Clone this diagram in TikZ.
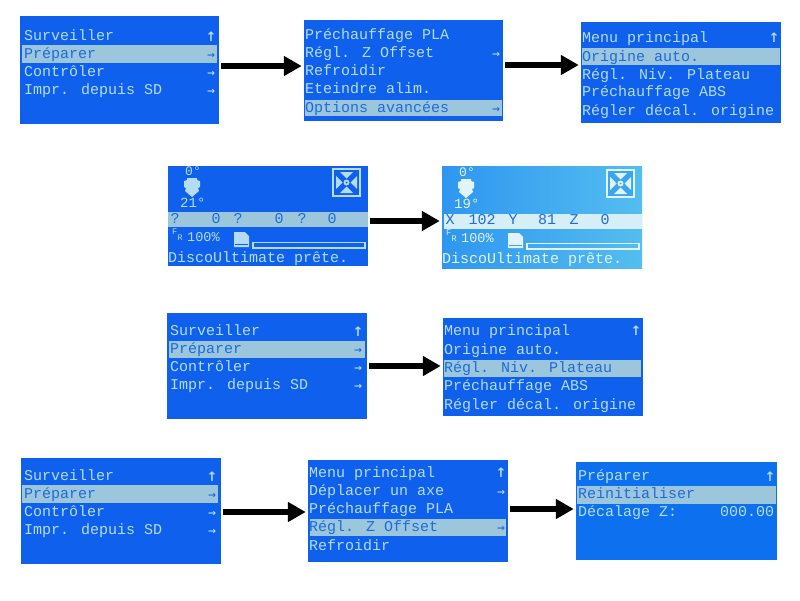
\documentclass[tikz,border=0pt]{standalone}
\usepackage{fontspec}
\usepackage{tikz}
\usetikzlibrary{arrows.meta}
\newfontfamily\lcdfont{Liberation Mono}
\newfontfamily\symfont{DejaVu Sans Bold}
\definecolor{lcdblue}{HTML}{0F60EC}
\definecolor{lcdtext}{HTML}{B4DCF4}
\definecolor{lcdrow}{HTML}{9CC6DC}
\definecolor{lcdink}{HTML}{1E6BE0}
\definecolor{skyleft}{HTML}{2E96F0}
\definecolor{skyright}{HTML}{54BEF0}
\definecolor{skymid}{HTML}{3CA5F0}
\definecolor{skyrow}{HTML}{D6EEF6}
\definecolor{skytext}{HTML}{E2F4FA}
\tikzset{
    screen/.style={rectangle, fill=lcdblue, inner sep=0pt},
    rowbar/.style={rectangle, fill=lcdrow, inner sep=0pt},
    lcd/.style={anchor=base west, inner sep=0pt, yshift=1pt, text=lcdtext, font=\lcdfont\fontsize{15}{15}\selectfont},
    ink/.style={lcd, text=lcdink},
    sym/.style={anchor=base, inner sep=0pt, text=lcdtext, font=\symfont\fontsize{9.5}{9.5}\selectfont},
    symink/.style={sym, text=lcdink},
    symup/.style={sym, font=\symfont\fontsize{13}{13}\selectfont},
    bigarrow/.style={line width=6pt, -{Triangle[width=19pt,length=18pt]}, shorten <=2pt, shorten >=2pt},
}
\begin{document}
\begin{tikzpicture}[x=1pt, y=-1pt]
    \useasboundingbox (0,0) rectangle (800,600);
    \fill[white] (0,0) rectangle (800,600);

    % first line
    \node at (119.5,70) [screen, minimum width=199pt, minimum height=108pt] (s1) {};
    \node at (119.5,54) [rowbar, minimum width=195pt, minimum height=18pt] (s1bar) {};
    \foreach \i/\y/\t/\k in {a/41/Surveiller/lcd, b/59/Préparer/ink, c/77/Contrôler/lcd, d/95/Impr. depuis SD/lcd}
        \node at (24,\y) [\k] (s1\i) {\t};
    \node at (211,41) [symup] (s1up) {↑};
    \foreach \i/\y/\k in {b/58/symink, c/76/sym, d/94/sym}
        \node at (211,\y) [\k] (s1go\i) {→};

    \node at (403.5,70.5) [screen, minimum width=199pt, minimum height=101pt] (s2) {};
    \node at (403.5,108) [rowbar, minimum width=197pt, minimum height=16pt] (s2bar) {};
    \foreach \i/\y/\t/\k in {a/40/Préchauffage PLA/lcd, b/58/Régl. Z Offset/lcd, c/76/Refroidir/lcd, d/94/Eteindre alim./lcd, e/113/Options avancées/ink}
        \node at (305,\y) [\k] (s2\i) {\t};
    \foreach \i/\y/\k in {b/57/sym, e/112/symink}
        \node at (496,\y) [\k] (s2go\i) {→};

    \node at (681,72.5) [screen, minimum width=200pt, minimum height=101pt] (s3) {};
    \node at (681,56.5) [rowbar, minimum width=198pt, minimum height=17pt] (s3bar) {};
    \foreach \i/\y/\t/\k in {a/43/Menu principal/lcd, b/62/Origine auto./ink, c/80/Régl. Niv. Plateau/lcd, d/97/Préchauffage ABS/lcd, e/116/Régler décal. origine/lcd}
        \node at (582,\y) [\k] (s3\i) {\t};
    \node at (774,42) [symup] (s3up) {↑};

    % status screens
    \node at (268,216) [screen, minimum width=200pt, minimum height=100pt] (s4) {};
    \node at (268,219.5) [rowbar, minimum width=200pt, minimum height=15pt] (s4bar) {};
    \node at (542,217) [rectangle, inner sep=0pt, minimum width=200pt, minimum height=102pt, left color=skyleft, right color=skyright] (s5) {};
    \node at (543,221.5) [rectangle, inner sep=0pt, minimum width=198pt, minimum height=15pt, fill=skyrow] (s5bar) {};

    \foreach \n/\dx/\dy/\tmp/\col/\bg in {p/0/0/21/lcdtext/lcdblue, q/274/1/19/skytext/skymid} {
        \begin{scope}[shift={(\dx,\dy)}]
            % heater, fan
            \node at (185,176) [lcd, font=\lcdfont\fontsize{13}{13}\selectfont, text=\col] (\n hot) {0°};
            \node at (180,208) [lcd, font=\lcdfont\fontsize{14}{14}\selectfont, text=\col] (\n bed) {\tmp°};
            \fill[\col] (187,178) -- (197,178) -- (197,180) -- (200,181) -- (200,187) -- (198,188) -- (199,191) -- (192,197) -- (185,191) -- (186,188) -- (184,187) -- (184,181) -- (187,180) -- cycle;
            \fill[\col] (332,168) rectangle (361,197);
            \fill[\bg] (334,170) rectangle (359,195);
            \fill[\col] (340,172) -- (353,172) -- (346.5,178.5) -- cycle;
            \fill[\col] (340,193) -- (353,193) -- (346.5,186.5) -- cycle;
            \fill[\col] (336,176) -- (336,189) -- (342.5,182.5) -- cycle;
            \fill[\col] (357,176) -- (357,189) -- (350.5,182.5) -- cycle;
            \fill[\col] (346.5,182.5) circle (3);
            \fill[\bg] (346.5,182.5) circle (1);
            % feedrate, card, progress
            \node at (172,235) [lcd, font=\lcdfont\fontsize{8.5}{8.5}\selectfont, text=\col] (\n f) {F};
            \node at (177.5,241) [lcd, font=\lcdfont\fontsize{8.5}{8.5}\selectfont, text=\col] (\n r) {R};
            \node at (187,242) [lcd, font=\lcdfont\fontsize{13.5}{13.5}\selectfont, text=\col] (\n rate) {100\%};
            \fill[\col] (234,232) -- (245,232) -- (249,236) -- (249,247) -- (234,247) -- cycle;
            \draw[\bg, line width=1pt] (235,244) -- (248,244);
            \draw[\col, line width=1.2pt] (253,242.5) rectangle (365,248);
            \node at (168,263) [lcd, text=\col] (\n msg) {DiscoUltimate prête.};
        \end{scope}
    }
    \foreach \i/\x/\t in {a/175/?, b/216/0, c/238/?, d/279/0, e/302/?, f/332/0}
        \node at (\x,224) [ink, anchor=base] (s4\i) {\t};
    \foreach \i/\x/\t in {a/450/X, b/482/102, c/513/Y, d/547/81, e/574/Z, f/605/0}
        \node at (\x,225) [ink, anchor=base] (s5\i) {\t};

    % third line
    \node at (267,366) [screen, minimum width=200pt, minimum height=106pt] (s6) {};
    \node at (267,349.5) [rowbar, minimum width=196pt, minimum height=17pt] (s6bar) {};
    \foreach \i/\y/\t/\k in {a/336/Surveiller/lcd, b/354/Préparer/ink, c/372/Contrôler/lcd, d/390/Impr. depuis SD/lcd}
        \node at (170,\y) [\k] (s6\i) {\t};
    \node at (358,336) [symup] (s6up) {↑};
    \foreach \i/\y/\k in {b/353/symink, c/371/sym, d/389/sym}
        \node at (358,\y) [\k] (s6go\i) {→};

    \node at (543,367) [screen, minimum width=200pt, minimum height=98pt] (s7) {};
    \node at (542.5,368.5) [rowbar, minimum width=197pt, minimum height=17pt] (s7bar) {};
    \foreach \i/\y/\t/\k in {a/336/Menu principal/lcd, b/355/Origine auto./lcd, c/373/Régl. Niv. Plateau/ink, d/391/Préchauffage ABS/lcd, e/410/Régler décal. origine/lcd}
        \node at (444,\y) [\k] (s7\i) {\t};
    \node at (636,335) [symup] (s7up) {↑};

    % last line
    \node at (121,511) [screen, minimum width=200pt, minimum height=106pt] (s8) {};
    \node at (120,494) [rowbar, minimum width=196pt, minimum height=18pt] (s8bar) {};
    \foreach \i/\y/\t/\k in {a/481/Surveiller/lcd, b/499/Préparer/ink, c/517/Contrôler/lcd, d/535/Impr. depuis SD/lcd}
        \node at (24,\y) [\k] (s8\i) {\t};
    \node at (212,481) [symup] (s8up) {↑};
    \foreach \i/\y/\k in {b/498/symink, c/516/sym, d/534/sym}
        \node at (212,\y) [\k] (s8go\i) {→};

    \node at (408,511) [screen, minimum width=200pt, minimum height=102pt] (s9) {};
    \node at (408,527.5) [rowbar, minimum width=196pt, minimum height=17pt] (s9bar) {};
    \foreach \i/\y/\t/\k in {a/478/Menu principal/lcd, b/496/Déplacer un axe/lcd, c/514/Préchauffage PLA/lcd, d/532/Régl. Z Offset/ink, e/551/Refroidir/lcd}
        \node at (309,\y) [\k] (s9\i) {\t};
    \node at (501,477) [symup] (s9up) {↑};
    \foreach \i/\y/\k in {b/495/sym, d/531/symink}
        \node at (501,\y) [\k] (s9go\i) {→};

    \node at (676.5,511) [screen, minimum width=201pt, minimum height=98pt, fill=lcdblue!90!cyan] (s10) {};
    \node at (676.5,495) [rowbar, minimum width=199pt, minimum height=18pt] (s10bar) {};
    \foreach \i/\y/\t/\k in {a/481/Préparer/lcd, b/499/Reinitialiser/ink, c/517/Décalage Z:/lcd}
        \node at (578,\y) [\k] (s10\i) {\t};
    \node at (720,517) [lcd] (s10val) {000.00};
    \node at (770,481) [symup] (s10up) {↑};

    % arrows between screens
    \draw[bigarrow] ([yshift=4pt]s1.east) -- ([yshift=4.5pt]s2.west);
    \draw[bigarrow] ([yshift=5.5pt]s2.east) -- ([yshift=7.5pt]s3.west);
    \draw[bigarrow] ([yshift=-5pt]s4.east) -- ([yshift=-4pt]s5.west);
    \draw[bigarrow] (s6.east) -- ([yshift=1pt]s7.west);
    \draw[bigarrow] ([yshift=-1pt]s8.east) -- ([yshift=-1pt]s9.west);
    \draw[bigarrow] ([yshift=2pt]s9.east) -- ([yshift=2pt]s10.west);
\end{tikzpicture}
\end{document}
